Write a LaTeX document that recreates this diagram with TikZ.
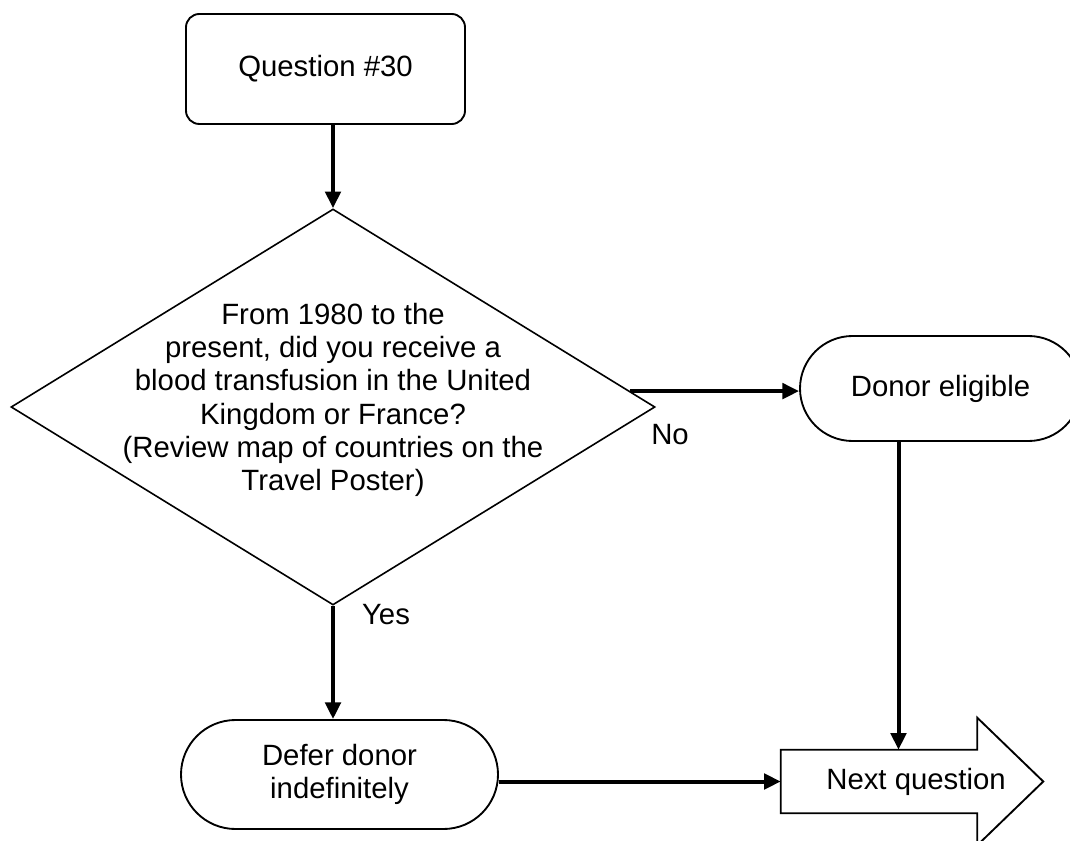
\documentclass[tikz,border=0pt]{standalone}
\usepackage{fontspec}
\setmainfont{Liberation Sans}
\usetikzlibrary{shapes.geometric,shapes.misc,arrows.meta,calc}
\begin{document}
\begin{tikzpicture}[x=0.75pt,y=-0.75pt,
  txt/.style={font=\fontsize{22}{25}\selectfont, align=center, inner sep=0pt},
  outline/.style={draw=black, line width=1.4pt},
  conn/.style={draw=black, line width=3pt, -{Triangle[length=12.5pt,width=11.5pt]}},
]
\useasboundingbox (0,0) rectangle (1070,841);
\clip (0,0) rectangle (1070,841);
\fill[white] (0,0) rectangle (1070,841);
% start box
\node[outline, txt, rounded corners=10pt, minimum width=209.25pt, minimum height=82.5pt] (q30) at (325.5,69) {Question \#30};
% decision
\node[outline, diamond, line width=1.2pt, minimum width=483pt, minimum height=297pt, inner sep=0pt] (d) at (333,407) {};
\node[txt] (dtext) at (333,400) {From 1980 to the\\present, did you receive a\\blood transfusion in the United\\Kingdom or France?\\(Review map of countries on the\\Travel Poster)};
% donor eligible
\node[outline, txt, rounded rectangle, minimum width=210.75pt, minimum height=78.75pt] (de) at (940.5,388.5) {Donor eligible};
% defer
\node[outline, txt, rounded rectangle, minimum width=237.75pt, minimum height=81.75pt] (defer) at (339.5,774.5) {Defer donor\\indefinitely};
% next question arrow
\node[minimum width=147pt, minimum height=47.25pt, inner sep=0pt] (nq) at (879,781.5) {};
\draw[outline] (nq.north west) -- (nq.north east) -- ++(0,-32) -- ($(nq.east)+(66,0)$) -- ($(nq.south east)+(0,32)$) -- (nq.south east) -- (nq.south west) -- cycle;
\node[txt] (nqt) at ($(nq.center)+(37,0)$) {Next question};
% labels
\node[txt] (no) at (670,435) {No};
\node[txt] (yes) at (386,615) {Yes};
% connectors
\draw[conn] (q30.south -| d.north) -- (d.north);
\coordinate (dnostart) at ($(d.east)!0.08!(d.north)$);
\draw[conn] (dnostart) -- (dnostart -| de.west);
\draw[conn] (d.south) -- (d.south |- defer.north);
\coordinate (dd) at ($(de.south)+(-42,0)$);
\draw[conn] (dd) -- (dd |- nq.north);
\draw[conn] (defer.east |- nq.west) -- (nq.west);
\end{tikzpicture}
\end{document}
